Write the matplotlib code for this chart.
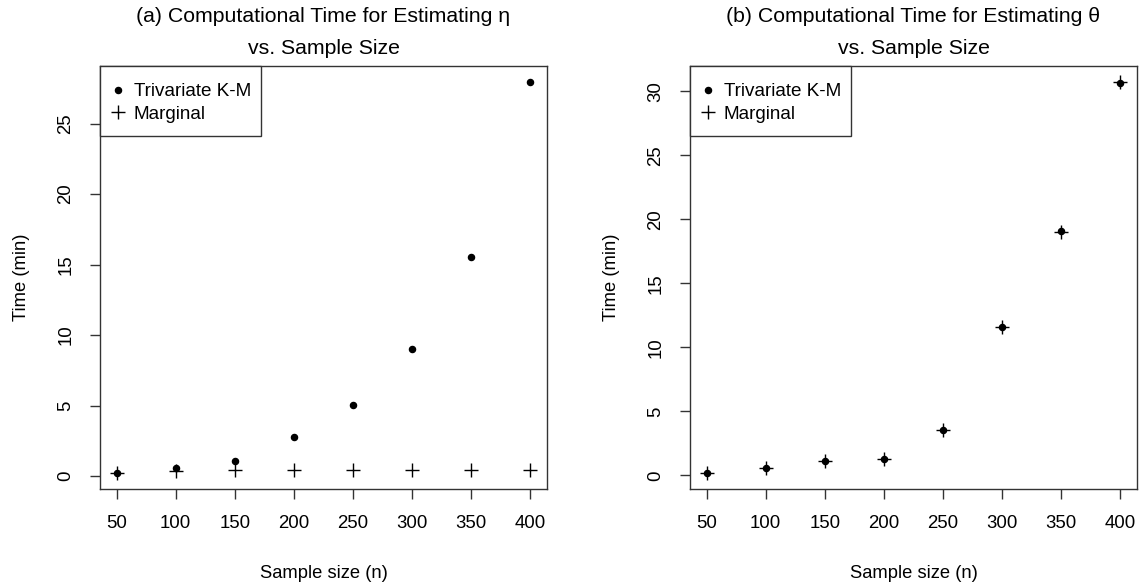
import matplotlib
matplotlib.use("Agg")
import matplotlib.pyplot as plt
from matplotlib.lines import Line2D
from matplotlib.patches import Rectangle

plt.rcParams['font.family'] = ['Liberation Sans', 'DejaVu Sans']

sample_sizes = [50, 100, 150, 200, 250, 300, 350, 400]
eta_trivariate = [0.21, 0.61, 1.06, 2.78, 5.08, 9.0, 15.56, 27.97]
eta_marginal = [0.2, 0.38, 0.45, 0.45, 0.45, 0.45, 0.45, 0.45]
theta_trivariate = [0.16, 0.54, 1.09, 1.29, 3.54, 11.6, 19.12, 30.64]
theta_marginal = [0.16, 0.54, 1.09, 1.29, 3.54, 11.6, 18.97, 30.75]

titles = ["(a) Computational Time for Estimating \u03b7\nvs. Sample Size",
          "(b) Computational Time for Estimating \u03b8\nvs. Sample Size"]
yticks_list = [[0, 5, 10, 15, 20, 25], [0, 5, 10, 15, 20, 25, 30]]
xlabel = "Sample size (n)"
ylabel = "Time (min)"
legend_labels = ["Trivariate K-M", "Marginal"]

W, H = 1139, 588
fig = plt.figure(figsize=(W / 100, H / 100), dpi=100)
axes_px = [(100, 547), (690, 1137)]
top_px, bot_px = 66, 489
ax_w, ax_h = 447.0, float(bot_px - top_px)

data = [(eta_trivariate, eta_marginal), (theta_trivariate, theta_marginal)]

for i, ((x0, x1), (tri, mar)) in enumerate(zip(axes_px, data)):
    ax = fig.add_axes([x0 / W, (H - bot_px) / H, (x1 - x0) / W, (bot_px - top_px) / H])
    ax.plot(sample_sizes, tri, linestyle='none', marker='o', ms=4.4, color='black')
    ax.plot(sample_sizes, mar, linestyle='none', marker='+', ms=10, mew=1.0, color='black')
    allv = tri + mar
    lo, hi = min(allv), max(allv)
    r = hi - lo
    ax.set_ylim(lo - 0.04 * r, hi + 0.04 * r)
    xr = max(sample_sizes) - min(sample_sizes)
    ax.set_xlim(min(sample_sizes) - 0.04 * xr, max(sample_sizes) + 0.04 * xr)
    ax.set_xticks(sample_sizes)
    ax.set_yticks(yticks_list[i])
    ax.tick_params(axis='both', length=7.5, width=1.0, color='#333333', labelsize=13.4, pad=11)
    for lab in ax.get_yticklabels():
        lab.set_rotation(90)
        lab.set_va('center')
    for s in ax.spines.values():
        s.set_linewidth(1.0)
        s.set_color('#333333')
    ax.set_title(titles[i], fontsize=15.3, linespacing=1.85, pad=9)
    ax.set_xlabel(xlabel, fontsize=13.2, labelpad=24)
    ax.set_ylabel(ylabel, fontsize=13.2, labelpad=20)

    # legend frame (R-style box)
    box_w, box_h = 161.0, 70.0
    ax.add_patch(Rectangle((0, 1 - box_h / ax_h), box_w / ax_w, box_h / ax_h,
                           transform=ax.transAxes, fill=True, facecolor='white',
                           edgecolor='#333333', linewidth=1.0, zorder=4, clip_on=False))
    handles = [Line2D([], [], linestyle='none', marker='o', ms=4.4, color='black'),
               Line2D([], [], linestyle='none', marker='+', ms=10, mew=1.0, color='black')]
    leg = ax.legend(handles, legend_labels, loc='upper left',
                    bbox_to_anchor=(9 / ax_w, 1 - 17 / ax_h),
                    fontsize=13.6, frameon=False, borderaxespad=0, borderpad=0,
                    handletextpad=0.37, handlelength=0.95, labelspacing=0.3)
    leg.set_zorder(5)

fig.savefig("out.png", dpi=100)
